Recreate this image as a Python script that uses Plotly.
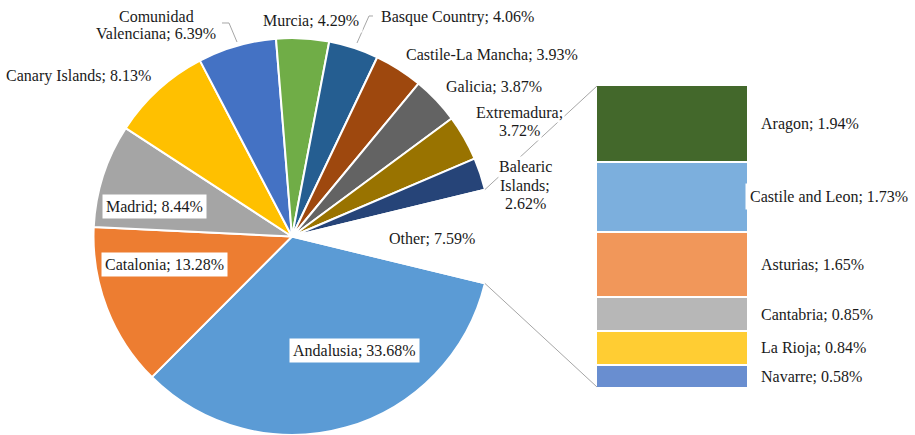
import math
import plotly.graph_objects as go

# ---------------- data ----------------
pie_labels = ["Andalusia", "Catalonia", "Madrid", "Canary Islands", "Comunidad Valenciana",
              "Murcia", "Basque Country", "Castile-La Mancha", "Galicia", "Extremadura",
              "Balearic Islands", "Other"]
pie_values = [33.68, 13.28, 8.44, 8.13, 6.39, 4.29, 4.06, 3.93, 3.87, 3.72, 2.62, 7.59]
pie_colors = ["#5B9BD5", "#ED7D31", "#A5A5A5", "#FFC000", "#4472C4", "#70AD47",
              "#255E91", "#9E480E", "#636363", "#997300", "#264478", "#FFFFFF"]

bar_labels = ["Aragon", "Castile and Leon", "Asturias", "Cantabria", "La Rioja", "Navarre"]
bar_values = [1.94, 1.73, 1.65, 0.85, 0.84, 0.58]
bar_colors = ["#43682B", "#7CAFDD", "#F1975A", "#B7B7B7", "#FFCD33", "#698ED0"]

# line-break overrides for the pie labels ("|" separates lines)
pie_text_fmt = {
    "Comunidad Valenciana": "Comunidad|Valenciana; {v}%",
    "Extremadura": "Extremadura;|{v}%",
    "Balearic Islands": "Balearic|Islands;|{v}%",
}

# ---------------- layout constants (pixels) ----------------
W, H = 915, 435
CX, CY, R = 292, 236.5, 198.5          # pie centre / radius
BX0, BX1, BY0, BY1 = 596, 748, 85, 388  # bar area
LINE_H = 18
FONT = dict(family="Liberation Serif, Times New Roman, serif", size=16, color="#1a1a1a")

# label centres in pixels (x, y from top)
pie_label_pos = {
    "Andalusia": (354, 350), "Catalonia": (164.5, 264), "Madrid": (154.5, 206),
    "Canary Islands": (78, 76), "Comunidad Valenciana": (156, 25), "Murcia": (311, 21),
    "Basque Country": (457, 17), "Castile-La Mancha": (492, 55), "Galicia": (494, 87),
    "Extremadura": (519, 121), "Balearic Islands": (525, 185), "Other": (432, 238),
}


def px(x):
    return x / W


def py(y):
    return 1 - y / H


total = sum(pie_values)
other_deg = pie_values[-1] / total * 360
rotation = 90 + other_deg / 2

fig = go.Figure()

fig.add_trace(go.Pie(
    labels=pie_labels, values=pie_values, sort=False, direction="clockwise",
    rotation=rotation, textinfo="none", hoverinfo="label+percent",
    marker=dict(colors=pie_colors, line=dict(color="white", width=2)),
    domain=dict(x=[px(CX - R), px(CX + R)], y=[py(CY + R), py(CY - R)]),
    showlegend=False,
))

# stacked bar of "Other" (bottom to top)
for name, val, col in reversed(list(zip(bar_labels, bar_values, bar_colors))):
    fig.add_trace(go.Bar(
        x=[0], y=[val], width=1, name=name, marker=dict(color=col, line=dict(color="white", width=2.5)),
        xaxis="x", yaxis="y", showlegend=False, hoverinfo="name+y",
    ))

annotations = []
# pie labels
for name, val in zip(pie_labels, pie_values):
    fmt = pie_text_fmt.get(name, name + "; {v}%")
    lines = fmt.format(v=f"{val:.2f}").split("|")
    x, y = pie_label_pos[name]
    n = len(lines)
    for i, line in enumerate(lines):
        yy = y + (i - (n - 1) / 2) * LINE_H
        annotations.append(dict(
            text=line, x=px(x), y=py(yy), xref="paper", yref="paper", showarrow=False,
            xanchor="center", yanchor="middle", align="center", font=FONT,
            bgcolor="white", borderpad=3 if n == 1 else 1,
        ))

# bar labels (centred on each segment)
cum = 0
for name, val in reversed(list(zip(bar_labels, bar_values))):
    mid = cum + val / 2
    cum += val
    long = name == "Castile and Leon"
    annotations.append(dict(
        text=f"{name}; {val:.2f}%", x=px(745 if long else 757), y=mid, xref="paper", yref="y",
        showarrow=False, xanchor="left", yanchor="middle", font=FONT,
        bgcolor="white" if long else "rgba(0,0,0,0)", borderpad=4 if long else 3,
    ))

# connector lines from the "Other" slice to the bar
a_top = math.radians(rotation - other_deg)
a_bot = math.radians(rotation)
top_pt = (CX + R * math.sin(a_top), CY - R * math.cos(a_top))
bot_pt = (CX + R * math.sin(a_bot), CY - R * math.cos(a_bot))
line_style = dict(color="#A6A6A6", width=1)
shapes = [
    dict(type="line", xref="paper", yref="paper", x0=px(top_pt[0]), y0=py(top_pt[1]),
         x1=px(BX0 + 1), y1=py(BY0 + 1), line=line_style, layer="above"),
    dict(type="line", xref="paper", yref="paper", x0=px(bot_pt[0]), y0=py(bot_pt[1]),
         x1=px(BX0 + 1), y1=py(BY1 - 1), line=line_style, layer="above"),
]
# leader lines
for pts in [[(222, 23), (229, 23), (237, 42)], [(373, 16), (369, 16), (357, 43)]]:
    path = "M " + " L ".join(f"{px(a):.5f},{py(b):.5f}" for a, b in pts)
    shapes.append(dict(type="path", xref="paper", yref="paper", path=path,
                       line=line_style, layer="above"))

fig.update_layout(
    width=W, height=H, margin=dict(l=0, r=0, t=0, b=0),
    paper_bgcolor="white", plot_bgcolor="rgba(0,0,0,0)",
    barmode="stack", bargap=0,
    xaxis=dict(domain=[px(BX0), px(BX1)], range=[-0.5, 0.5], visible=False, fixedrange=True),
    yaxis=dict(domain=[py(BY1), py(BY0)], range=[0, sum(bar_values)], visible=False, fixedrange=True),
    annotations=annotations, shapes=shapes,
)

fig.write_html("out.html", config={"displayModeBar": False},
               post_script="document.body.style.margin='0';document.body.style.overflow='hidden';")
